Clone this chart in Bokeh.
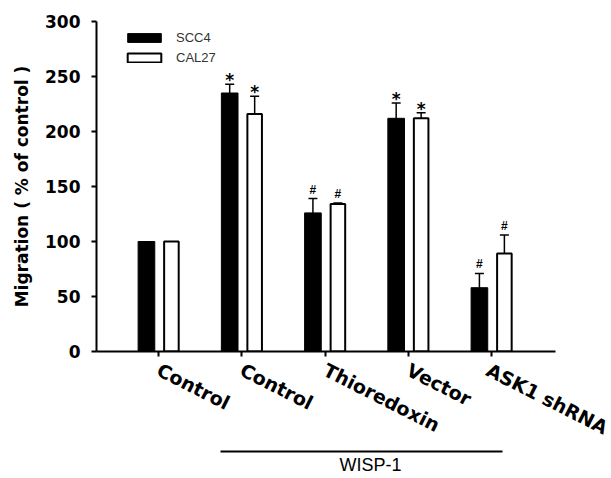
from bokeh.plotting import figure
from bokeh.models import Range1d, FixedTicker, Legend, LegendItem, LinearAxis, Title
from bokeh.embed import file_html
from bokeh.resources import INLINE
from bokeh.core.properties import value

# ---- data ----
categories = ["Control", "Control", "Thioredoxin", "Vector", "ASK1 shRNA"]
scc4 = [100, 235, 126, 212, 58]
scc4_err = [0, 8, 13, 14, 13]
cal27 = [100, 216, 134, 212, 89]
cal27_err = [0, 16, 1, 5, 17]
scc4_marks = ["", "*", "#", "*", "#"]
cal27_marks = ["", "*", "#", "*", "#"]
y_ticks = [0, 50, 100, 150, 200, 250, 300]
group_label = "WISP-1"
group_members = [1, 2, 3, 4]

idx = list(range(len(categories)))
off_a, off_b = -0.145, 0.155

p = figure(width=611, height=478, x_range=Range1d(-0.745, 4.769), y_range=Range1d(0, 300),
           output_backend="svg", toolbar_location=None,
           min_border_left=96, min_border_right=56, min_border_top=21, min_border_bottom=127)
p.outline_line_color = None
p.xgrid.visible = False
p.ygrid.visible = False
p.background_fill_color = "white"

xa = [i + off_a for i in idx]
xb = [i + off_b for i in idx]
r1 = p.vbar(x=xa, top=scc4, width=0.2, fill_color="black", line_color="black", line_width=1)
r2 = p.vbar(x=xb, top=cal27, width=0.175, fill_color="white", line_color="black", line_width=2)

def errbars(xs, tops, errs):
    sx = [x for x, e in zip(xs, errs) if e > 0]
    t0 = [t for t, e in zip(tops, errs) if e > 0]
    t1 = [t + e for t, e in zip(tops, errs) if e > 0]
    p.segment(x0=sx, y0=t0, x1=sx, y1=t1, line_color="black", line_width=1.5)
    p.segment(x0=[x - 0.054 for x in sx], y0=t1, x1=[x + 0.054 for x in sx], y1=t1,
              line_color="black", line_width=1.5)

errbars(xa, scc4, scc4_err)
errbars(xb, cal27, cal27_err)

def marks(xs, tops, errs, ms):
    for sym, font, size, yoff in [("*", "DejaVu Sans", "17px", 6), ("#", "Liberation Sans", "12px", -2)]:
        mx = [x for x, m in zip(xs, ms) if m == sym]
        my = [t + e for t, e, m in zip(tops, errs, ms) if m == sym]
        p.text(x=mx, y=my, text=[sym] * len(mx), text_align="center", text_baseline="bottom",
               y_offset=yoff, text_font=value(font), text_font_size=size,
               text_font_style="bold", text_color="black")

marks(xa, scc4, scc4_err, scc4_marks)
marks(xb, cal27, cal27_err, cal27_marks)

# axes
for ax in (p.xaxis[0], p.yaxis[0]):
    ax.axis_line_width = 2
    ax.axis_line_color = "black"
    ax.major_tick_line_width = 2
    ax.major_tick_out = 5
    ax.major_tick_in = 0
    ax.minor_tick_line_color = None

p.yaxis.ticker = FixedTicker(ticks=y_ticks)
p.yaxis.major_label_text_font = "DejaVu Sans"
p.yaxis.major_label_text_font_style = "bold"
p.yaxis.major_label_text_font_size = "17px"
p.yaxis.major_label_text_color = "black"
p.yaxis.major_label_standoff = 11
p.yaxis.axis_label = "Migration ( % of control )"
p.yaxis.axis_label_text_font = "DejaVu Sans"
p.yaxis.axis_label_text_font_style = "bold"
p.yaxis.axis_label_text_font_size = "17px"
p.yaxis.axis_label_text_color = "black"
p.yaxis.axis_label_standoff = 10

p.xaxis.ticker = FixedTicker(ticks=idx)
p.xaxis.major_label_overrides = {i: c for i, c in zip(idx, categories)}
p.xaxis.major_label_orientation = -0.47
p.xaxis.major_label_text_font = "DejaVu Sans"
p.xaxis.major_label_text_font_style = "bold"
p.xaxis.major_label_text_font_size = "19px"
p.xaxis.major_label_text_color = "black"
p.xaxis.major_label_standoff = 12

# group bracket as a bounded axis, its label as a title below it
gax = LinearAxis(bounds=(group_members[0] - 0.255, group_members[-1] + 0.13),
                 ticker=FixedTicker(ticks=[]),
                 axis_line_width=2, axis_line_color="black",
                 major_tick_line_color=None, minor_tick_line_color=None)
p.add_layout(gax, "below")
p.add_layout(Title(text=group_label, align="left", offset=243, standoff=2,
                   text_font="Liberation Sans", text_font_style="normal",
                   text_font_size="18px", text_color="black"), "below")

legend = Legend(items=[LegendItem(label="SCC4", renderers=[r1]),
                       LegendItem(label="CAL27", renderers=[r2])],
                location=(27, 286), glyph_width=42, glyph_height=11, label_standoff=11,
                padding=0, margin=0, spacing=5, border_line_color=None,
                background_fill_alpha=0, label_text_font="Liberation Sans",
                label_text_font_size="13px", label_text_color="#333333")
p.add_layout(legend)

open("out.html", "w").write(file_html(p, INLINE))
